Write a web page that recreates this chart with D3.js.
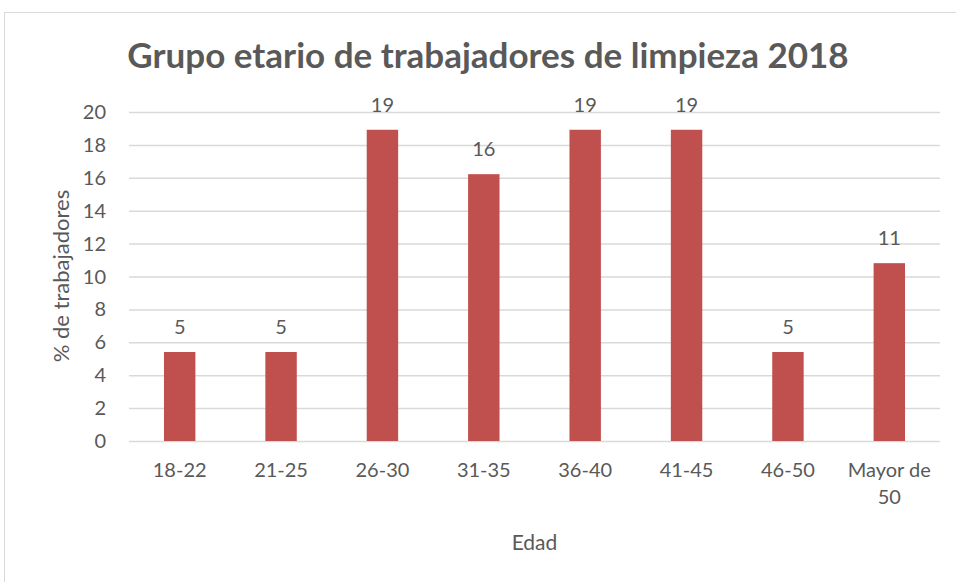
<!DOCTYPE html>
<html>
<head>
<meta charset="utf-8">
<script src="https://d3js.org/d3.v7.min.js"></script>
<style>
  body { margin: 0; background: #fff; }
  text { font-family: Lato, "Open Sans", sans-serif; fill: #595959; }
</style>
</head>
<body>
<svg id="chart" width="956" height="582"></svg>
<script>
// data
const categories = ["18-22", "21-25", "26-30", "31-35", "36-40", "41-45", "46-50", "Mayor de 50"];
const values = [5.41, 5.41, 18.92, 16.22, 18.92, 18.92, 5.41, 10.81];
const labels = ["5", "5", "19", "16", "19", "19", "5", "11"];
const yTicks = [0, 2, 4, 6, 8, 10, 12, 14, 16, 18, 20];

const svg = d3.select("#chart");

// chart frame
svg.append("rect")
    .attr("x", 4.5).attr("y", 12.5)
    .attr("width", 980).attr("height", 600)
    .attr("fill", "#fff")
    .attr("stroke", "#d9d9d9");

const margin = {left: 129, right: 16, top: 112, bottom: 141};
const width = 956, height = 582;

const x = d3.scaleBand()
    .domain(categories)
    .range([margin.left, width - margin.right])
    .paddingInner(0.69)
    .paddingOuter(0.345);

const y = d3.scaleLinear()
    .domain([0, 20])
    .range([height - margin.bottom, margin.top]);

// gridlines
svg.append("g")
    .selectAll("line")
    .data(yTicks)
    .join("line")
      .attr("x1", margin.left)
      .attr("x2", width - margin.right)
      .attr("y1", d => y(d) + 0.5)
      .attr("y2", d => y(d) + 0.5)
      .attr("stroke", "#d9d9d9")
      .attr("stroke-width", 1.5);

// y axis labels
svg.append("g")
    .selectAll("text")
    .data(yTicks)
    .join("text")
      .attr("x", 106)
      .attr("y", d => y(d))
      .attr("dy", "0.35em")
      .attr("text-anchor", "end")
      .style("font-size", "20px")
      .text(d => d);

// bars
svg.append("g")
    .selectAll("rect")
    .data(values)
    .join("rect")
      .attr("x", (d, i) => x(categories[i]))
      .attr("y", d => y(d))
      .attr("width", x.bandwidth())
      .attr("height", d => y(0) - y(d))
      .attr("fill", "#c0504d");

// data labels
svg.append("g")
    .selectAll("text")
    .data(values)
    .join("text")
      .attr("x", (d, i) => x(categories[i]) + x.bandwidth() / 2)
      .attr("y", d => y(d) - 18)
      .attr("text-anchor", "middle")
      .style("font-size", "20px")
      .text((d, i) => labels[i]);

// x axis labels (wrap "Mayor de 50")
const xl = svg.append("g")
    .selectAll("text")
    .data(categories)
    .join("text")
      .attr("x", d => x(d) + x.bandwidth() / 2)
      .attr("y", 477)
      .attr("text-anchor", "middle")
      .style("font-size", "20px");

xl.each(function(d) {
    const t = d3.select(this);
    const parts = d === "Mayor de 50" ? ["Mayor de", "50"] : [d];
    parts.forEach((p, k) => {
        t.append("tspan")
            .attr("x", x(d) + x.bandwidth() / 2)
            .attr("dy", k === 0 ? 0 : 27)
            .text(p);
    });
});

// axis titles
svg.append("text")
    .attr("x", (margin.left + width - margin.right) / 2)
    .attr("y", 550)
    .attr("text-anchor", "middle")
    .style("font-size", "21px")
    .text("Edad");

svg.append("text")
    .attr("transform", "translate(69,276) rotate(-90)")
    .attr("text-anchor", "middle")
    .style("font-size", "22px")
    .text("% de trabajadores");

// title
svg.append("text")
    .attr("x", 488)
    .attr("y", 68)
    .attr("text-anchor", "middle")
    .style("font-size", "35px")
    .style("font-weight", "bold")
    .text("Grupo etario de trabajadores de limpieza 2018");
</script>
</body>
</html>
